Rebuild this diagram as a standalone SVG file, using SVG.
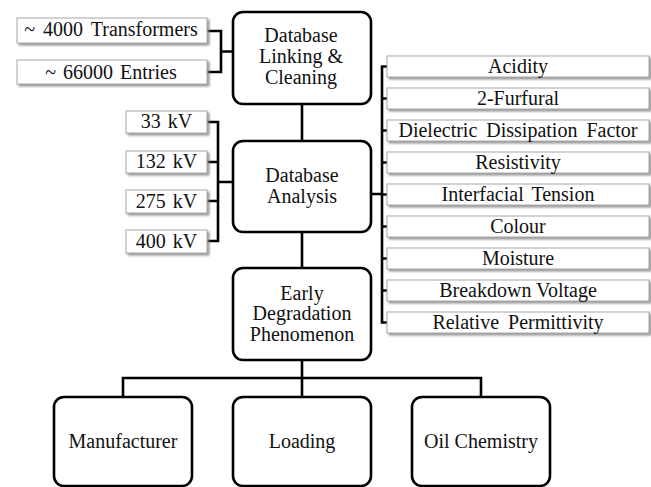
<svg xmlns="http://www.w3.org/2000/svg" width="651" height="487" viewBox="0 0 651 487">
  <defs>
    <filter id="shadow" x="-10%" y="-20%" width="130%" height="160%">
      <feDropShadow dx="2" dy="2" stdDeviation="1" flood-color="#7a7a7a" flood-opacity="0.8"/>
    </filter>
  </defs>
  <rect width="651" height="487" fill="#fff"/>

  <!-- connectors -->
  <g id="connectors" fill="none" stroke="#000" stroke-width="2.6" stroke-linejoin="miter">
    <!-- inputs to linking -->
    <path d="M207,31 H221 V72 H207 M221,51.5 H233"/>
    <!-- main spine -->
    <path d="M302,104 V141 M302,232 V268 M302,360 V397"/>
    <!-- voltage levels -->
    <path d="M207,122 H218 V241 H207 M207,162 H218 M207,201 H218 M218,182 H233"/>
    <!-- parameter bus -->
    <path d="M371,194 H382 M387,66.5 H382 V322.5 H387 M382,98.5 H387 M382,130.5 H387 M382,162.5 H387 M382,194.5 H387 M382,226.5 H387 M382,258.5 H387 M382,290.5 H387"/>
    <!-- factor branches -->
    <path d="M123,397 V378 H481 V397"/>
  </g>

  <!-- plain label boxes: thin grey border with drop shadow -->
  <g fill="#fff" stroke="#a8a8a8" stroke-width="1" filter="url(#shadow)">
    <rect id="box-transformers" x="17" y="18" width="190" height="25"/>
    <rect id="box-entries" x="17" y="60" width="190" height="24"/>
    <rect id="box-kv33" x="126" y="111" width="81" height="22"/>
    <rect id="box-kv132" x="126" y="151" width="81" height="22"/>
    <rect id="box-kv275" x="126" y="190" width="81" height="23"/>
    <rect id="box-kv400" x="126" y="230" width="81" height="23"/>
    <rect id="box-acidity" x="387" y="56" width="262" height="21"/>
    <rect id="box-furfural" x="387" y="88" width="262" height="21"/>
    <rect id="box-ddf" x="387" y="120" width="262" height="21"/>
    <rect id="box-resistivity" x="387" y="152" width="262" height="21"/>
    <rect id="box-ift" x="387" y="184" width="262" height="21"/>
    <rect id="box-colour" x="387" y="216" width="262" height="21"/>
    <rect id="box-moisture" x="387" y="248" width="262" height="21"/>
    <rect id="box-bdv" x="387" y="280" width="262" height="21"/>
    <rect id="box-permittivity" x="387" y="312" width="262" height="21"/>
  </g>

  <!-- process stages and factors: rounded black boxes -->
  <g fill="#fff" stroke="#000" stroke-width="2.6">
    <rect id="box-linking" x="233" y="12" width="138" height="92" rx="10"/>
    <rect id="box-analysis" x="233" y="141" width="138" height="91" rx="10"/>
    <rect id="box-degradation" x="233" y="268" width="138" height="92" rx="10"/>
    <rect id="box-manufacturer" x="54" y="397" width="138" height="89" rx="10"/>
    <rect id="box-loading" x="233" y="397" width="138" height="89" rx="10"/>
    <rect id="box-oil" x="412" y="397" width="138" height="89" rx="10"/>
  </g>

  <g font-family="Liberation Serif" font-size="20" fill="#111" text-anchor="middle">
    <g id="src-transformers"><text x="111" y="36" word-spacing="3">~ 4000 Transformers</text></g>
    <g id="src-entries"><text x="111" y="79" word-spacing="2">~ 66000 Entries</text></g>

    <g id="linking">
      <text x="301" y="42">Database</text>
      <text x="301" y="63">Linking &amp;</text>
      <text x="301" y="84">Cleaning</text>
    </g>
    <g id="analysis">
      <text x="302" y="182">Database</text>
      <text x="302" y="203">Analysis</text>
    </g>
    <g id="degradation">
      <text x="302" y="300">Early</text>
      <text x="302" y="320">Degradation</text>
      <text x="302" y="341">Phenomenon</text>
    </g>

    <g id="kv33"><text x="166.5" y="128" word-spacing="2">33 kV</text></g>
    <g id="kv132"><text x="166.5" y="168" word-spacing="2">132 kV</text></g>
    <g id="kv275"><text x="166.5" y="208" word-spacing="2">275 kV</text></g>
    <g id="kv400"><text x="166.5" y="248" word-spacing="2">400 kV</text></g>

    <g id="p-acidity"><text x="518" y="73">Acidity</text></g>
    <g id="p-furfural"><text x="518" y="105">2-Furfural</text></g>
    <g id="p-ddf"><text x="518" y="137" word-spacing="4">Dielectric Dissipation Factor</text></g>
    <g id="p-resistivity"><text x="518" y="169">Resistivity</text></g>
    <g id="p-ift"><text x="518" y="201" word-spacing="3">Interfacial Tension</text></g>
    <g id="p-colour"><text x="518" y="233">Colour</text></g>
    <g id="p-moisture"><text x="518" y="265">Moisture</text></g>
    <g id="p-bdv"><text x="518" y="297">Breakdown Voltage</text></g>
    <g id="p-permittivity"><text x="518" y="329" word-spacing="4">Relative Permittivity</text></g>

    <g id="f-manufacturer"><text x="123" y="448">Manufacturer</text></g>
    <g id="f-loading"><text x="302" y="448">Loading</text></g>
    <g id="f-oil"><text x="481" y="448">Oil Chemistry</text></g>
  </g>
</svg>
